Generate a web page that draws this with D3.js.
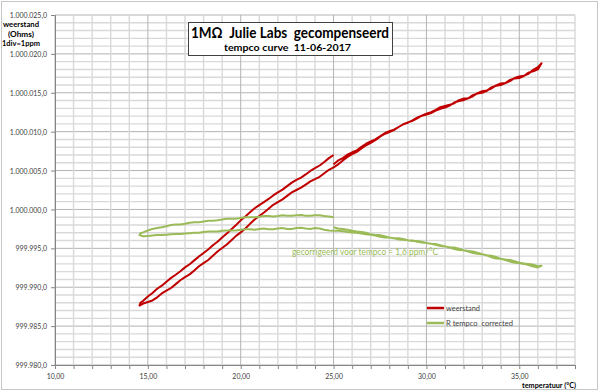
<!DOCTYPE html>
<html><head><meta charset="utf-8">
<script src="https://cdn.jsdelivr.net/npm/d3@7"></script>
<style>
body{margin:0;background:#fff}
svg{display:block}
text{font-family:Lato,"Open Sans",sans-serif;white-space:pre}
</style>
</head><body>
<svg id="c" width="600" height="392"></svg>
<script>
// ---- data ----
const xTicks = [10, 15, 20, 25, 30, 35];
const yTicks = [999980, 999985, 999990, 999995, 1000000, 1000005, 1000010, 1000015, 1000020, 1000025];
const nominal = 1000000; // ohm; the deltas below are ohm above 1 MΩ

// run 1: heating 25 -> 36 °C
const heatUpTemp = [
  25.0,25.25,25.5,25.75, 26.0,26.25,26.5,26.75, 27.0,27.25,27.5,27.75, 28.0,28.25,28.5,28.75,
  29.0,29.25,29.5,29.75, 30.0,30.25,30.5,30.75, 31.0,31.25,31.5,31.75, 32.0,32.25,32.5,32.75,
  33.0,33.25,33.5,33.75, 34.0,34.25,34.5,34.75, 35.0,35.25,35.5,35.75, 36.0,36.2];
// run 2: cooling 36 -> 14.5 °C
const coolDownTemp = [
  36.0,35.75,35.5,35.25, 35.0,34.75,34.5,34.25, 34.0,33.75,33.5,33.25, 33.0,32.75,32.5,32.25,
  32.0,31.75,31.5,31.25, 31.0,30.75,30.5,30.25, 30.0,29.75,29.5,29.25, 29.0,28.75,28.5,28.25,
  28.0,27.75,27.5,27.25, 27.0,26.75,26.5,26.25, 26.0,25.75,25.5,25.25, 25.0,24.75,24.5,24.25,
  24.0,23.75,23.5,23.25, 23.0,22.75,22.5,22.25, 22.0,21.75,21.5,21.25, 21.0,20.75,20.5,20.25,
  20.0,19.75,19.5,19.25, 19.0,18.75,18.5,18.25, 18.0,17.75,17.5,17.25, 17.0,16.75,16.5,16.25,
  16.0,15.75,15.5,15.25, 15.0,14.75,14.55];
// run 3: heating 14.5 -> 25 °C
const heatBackTemp = [
  14.6,14.75, 15.0,15.25,15.5,15.75, 16.0,16.25,16.5,16.75, 17.0,17.25,17.5,17.75, 18.0,18.25,18.5,18.75,
  19.0,19.25,19.5,19.75, 20.0,20.25,20.5,20.75, 21.0,21.25,21.5,21.75, 22.0,22.25,22.5,22.75,
  23.0,23.25,23.5,23.75, 24.0,24.25,24.5,24.75, 25.0];

// "weerstand" (ohm above 1 MΩ)
const weerstandHeatUp = [
  5.8,6.3,6.6,7.05, 7.35,7.6,8.05,8.45, 8.75,9.0,9.4,9.8, 10.05,10.25,10.6,10.95,
  11.2,11.4,11.7,12.05, 12.3,12.5,12.8,13.15, 13.3,13.45,13.65,14.05, 14.25,14.3,14.55,14.95,
  15.2,15.3,15.55,15.95, 16.2,16.25,16.5,16.9, 17.1,17.2,17.45,17.95, 18.3,18.8];
const weerstandCoolDown = [
  18.0,17.75,17.6,17.15, 16.9,16.85,16.65,16.25, 16.0,15.9,15.7,15.25, 15.0,14.9,14.7,14.3,
  14.05,13.95,13.75,13.35, 13.1,12.95,12.7,12.4, 12.2,12.05,11.8,11.45, 11.15,10.95,10.6,10.2,
  9.95,9.7,9.35,8.9, 8.55,8.25,7.85,7.4, 7.1,6.75,6.3,5.8, 5.4,5.1,4.65,4.2,
  3.9,3.6,3.2,2.8, 2.5,2.2,1.75,1.3, 0.95,0.6,0.1,-0.4, -0.85,-1.3,-1.85,-2.45,
  -2.95,-3.4,-3.95,-4.5, -4.95,-5.4,-5.95,-6.5, -6.9,-7.3,-7.85,-8.35, -8.7,-9.1,-9.6,-10.1,
  -10.45,-10.8,-11.3,-11.7, -11.9,-12.1,-12.35];
const weerstandHeatBack = [
  -12.0,-11.75, -11.2,-10.75,-10.2,-9.8, -9.3,-8.8,-8.4,-7.95, -7.45,-7.05,-6.55,-6.05, -5.6,-5.15,-4.6,-4.15,
  -3.6,-3.1,-2.55,-2.0, -1.4,-0.9,-0.35,0.15, 0.55,0.95,1.35,1.8, 2.2,2.55,3.0,3.45,
  3.8,4.1,4.5,4.95, 5.3,5.65,6.1,6.6, 7.0];

// "R tempco  corrected" (ohm above 1 MΩ)
const correctedHeatUp = [
  -2.3,-2.45,-2.5,-2.6, -2.75,-2.85,-2.9,-3.0, -3.2,-3.3,-3.3,-3.45, -3.6,-3.7,-3.7,-3.8,
  -3.95,-4.05,-4.05,-4.15, -4.3,-4.4,-4.45,-4.6, -4.75,-4.85,-4.9,-5.05, -5.25,-5.35,-5.4,-5.55,
  -5.75,-5.9,-5.95,-6.1, -6.35,-6.45,-6.5,-6.65, -6.85,-6.95,-7.0,-7.1, -7.3,-7.25];
const correctedCoolDown = [
  -7.45,-7.35,-7.15,-7.0, -6.9,-6.85,-6.7,-6.5, -6.35,-6.3,-6.15,-5.9, -5.75,-5.7,-5.6,-5.4,
  -5.25,-5.2,-5.1,-4.9, -4.75,-4.7,-4.55,-4.4, -4.3,-4.25,-4.15,-4.0, -3.95,-3.9,-3.85,-3.7,
  -3.6,-3.6,-3.5,-3.35, -3.25,-3.2,-3.1,-3.0, -2.95,-2.9,-2.8,-2.75, -2.75,-2.7,-2.6,-2.45,
  -2.4,-2.5,-2.45,-2.35, -2.4,-2.5,-2.5,-2.4, -2.45,-2.55,-2.55,-2.45, -2.5,-2.6,-2.55,-2.55,
  -2.6,-2.7,-2.7,-2.7, -2.75,-2.85,-2.85,-2.85, -2.9,-3.0,-3.0,-3.05, -3.1,-3.15,-3.15,-3.2,
  -3.25,-3.3,-3.3,-3.35, -3.4,-3.45,-3.3];
const correctedHeatBack = [
  -3.05,-2.95, -2.7,-2.5,-2.4,-2.3, -2.15,-2.0,-1.95,-1.95, -1.85,-1.7,-1.65,-1.65, -1.55,-1.45,-1.45,-1.4,
  -1.3,-1.2,-1.2,-1.2, -1.1,-1.0,-1.0,-1.0, -0.95,-0.85,-0.85,-0.9, -0.85,-0.75,-0.8,-0.8,
  -0.75,-0.7,-0.8,-0.8, -0.75,-0.75,-0.85,-0.9, -1.0];

const seriesNames = ["weerstand", "R tempco  corrected"];
const seriesColors = ["#c00000", "#9bbb59"];

// ---- build ----
const svg = d3.select("#c");
const W = 600, H = 392;
const L = 55, R = 575, T = 15, B = 365;
const x = d3.scaleLinear([10, 38], [L, R]);
const y = d3.scaleLinear([999980, 1000025], [B, T]);
const nl = d3.formatLocale({decimal: ",", thousands: ".", grouping: [3], currency: ["", ""]});
const fx = nl.format(",.2f"), fy = nl.format(",.1f");

svg.append("rect").attr("width", W).attr("height", H).attr("fill", "#fff");
svg.append("rect").attr("x", 1.5).attr("y", 1.5).attr("width", 596).attr("height", 388)
  .attr("fill", "none").attr("stroke", "#c6c6c6");

function fit(sel, w) {
  sel.attr("textLength", w).attr("lengthAdjust", "spacingAndGlyphs");
}

// grid
const grid = svg.append("g");
d3.range(999980, 1000026, 1).forEach(v => {
  const major = Math.round(v) % 5 === 0;
  grid.append("line").attr("x1", L).attr("x2", R).attr("y1", y(v)).attr("y2", y(v))
    .attr("stroke", major ? "#b3b3b3" : "#d9d9d9").attr("stroke-width", major ? 1 : 1.4);
});
d3.range(10, 39, 1).forEach(v => {
  const major = v % 5 === 0;
  grid.append("line").attr("y1", T).attr("y2", B).attr("x1", x(v)).attr("x2", x(v))
    .attr("stroke", major ? "#b3b3b3" : "#d9d9d9").attr("stroke-width", major ? 1 : 1.4);
});

// axes
const xa = svg.append("g").attr("transform", `translate(0,${B})`)
  .call(d3.axisBottom(x).tickValues(d3.range(10, 39, 1)).tickSize(4).tickPadding(4)
    .tickFormat(d => xTicks.includes(d) ? fx(d) : ""));
const ya = svg.append("g").attr("transform", `translate(${L},0)`)
  .call(d3.axisLeft(y).tickValues(yTicks).tickSize(4).tickPadding(4).tickFormat(fy));
[xa, ya].forEach(a => {
  a.select(".domain").attr("stroke", "#868686");
  a.selectAll(".tick line").attr("stroke", "#868686");
  a.selectAll("text").attr("font-size", 8).attr("fill", "#404040").attr("font-family", "Lato");
  a.selectAll("text").each(function () {
    const n = this.getComputedTextLength();
    if (n > 0) d3.select(this).call(fit, n * 0.87);
  });
});

// series
const lineGen = d3.line().x(d => x(d[0])).y(d => y(d[1]));
const temps = [...heatUpTemp, ...coolDownTemp, ...heatBackTemp];
const series = [
  [...weerstandHeatUp, ...weerstandCoolDown, ...weerstandHeatBack],
  [...correctedHeatUp, ...correctedCoolDown, ...correctedHeatBack]
];
series.forEach((s, i) => {
  const n = Math.min(s.length, temps.length);
  const pts = temps.slice(0, n).map((t, k) => [t, nominal + s[k]]);
  svg.append("path").datum(pts).attr("d", lineGen)
    .attr("fill", "none").attr("stroke", seriesColors[i]).attr("stroke-width", 2)
    .attr("stroke-linejoin", "round");
});

// annotation
svg.append("text").attr("x", 292).attr("y", 255).attr("font-size", 9).attr("fill", "#9bbb59")
  .text("gecorrigeerd voor tempco = 1,6 ppm/°C").call(fit, 146);

// legend
seriesNames.forEach((n, i) => {
  const ly = 308 + i * 15;
  svg.append("line").attr("x1", 427).attr("x2", 444).attr("y1", ly).attr("y2", ly)
    .attr("stroke", seriesColors[i]).attr("stroke-width", 2.5);
  svg.append("text").attr("x", 446).attr("y", ly + 3).attr("font-size", 8).attr("fill", "#404040")
    .text(n).call(fit, i === 0 ? 34 : 67);
});

// title box
svg.append("rect").attr("x", 188.5).attr("y", 22.5).attr("width", 204).attr("height", 33)
  .attr("fill", "#fff").attr("stroke", "#404040").attr("stroke-width", 1);
svg.append("text").attr("x", 191).attr("y", 37.5).attr("font-size", 14.5).attr("font-weight", "bold")
  .attr("fill", "#000").text("1MΩ  Julie Labs  gecompenseerd").call(fit, 198);
svg.append("text").attr("x", 224).attr("y", 51).attr("font-size", 10).attr("font-weight", "bold")
  .attr("fill", "#000").text("tempco curve  11-06-2017").call(fit, 127);

// axis titles
[["weerstand", 27, 36], ["(Ohms)", 36.5, 26], ["1div=1ppm", 46, 38]].forEach(([t, yy, w]) => {
  svg.append("text").attr("x", 21 - w / 2).attr("y", yy).attr("font-size", 8).attr("font-weight", "bold")
    .attr("fill", "#000").text(t).call(fit, w);
});
svg.append("text").attr("x", 522).attr("y", 388).attr("font-size", 8).attr("font-weight", "bold")
  .attr("fill", "#000").text("temperatuur (°C)").call(fit, 54);
</script>
</body></html>
